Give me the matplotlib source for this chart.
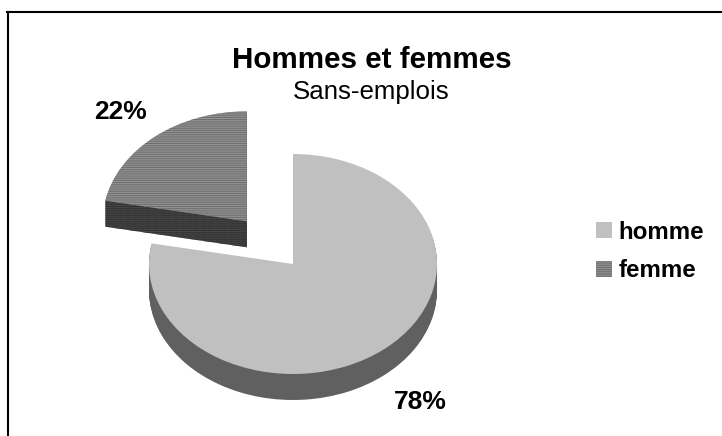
import matplotlib
matplotlib.use("Agg")
import matplotlib.pyplot as plt

plt.rcParams['font.family'] = ['Liberation Sans', 'DejaVu Sans']
plt.rcParams['hatch.linewidth'] = 0.7

categories = ["homme", "femme"]
values = [78, 22]
explode = [0, 72.5]
title = "Hommes et femmes"
subtitle = "Sans-emplois"

W, H = 722, 436
RX, RY = 144, 110
DEPTH = 26
# 1 unit of y in data = RY/RX pixels, this is what tilts the pie
YS = RX / RY

fig = plt.figure(figsize=(W / 100, H / 100), dpi=100)
ax = fig.add_axes([0, 0, 1, 1])


def draw_pie(py, top_colors, hatch_colors, hatches, zorder):
    wedges, _ = ax.pie(values, explode=explode, colors=top_colors, startangle=90,
                       counterclock=False, radius=RX, center=(293, (H - py) * YS),
                       wedgeprops=dict(linewidth=0))
    for w, hc, h in zip(wedges, hatch_colors, hatches):
        w.set_zorder(zorder)
        if h:
            w.set_hatch(h)
            w.set_edgecolor(hc)
    return wedges


# side wall: same pie stacked pixel by pixel
for d in range(DEPTH, 0, -1):
    draw_pie(264 + d, ["#606060", "#484848"], ["#606060", "#303030"], [None, "---------"], 2)

wedges = draw_pie(264, ["#c0c0c0", "#999999"], ["#c0c0c0", "#6c6c6c"], [None, "---------"], 3)

ax.set_aspect('auto')
ax.set_xlim(0, W)
ax.set_ylim(0, H * YS)
ax.axis('off')

ax.text(371.5, (H - 60) * YS, title, ha='center', va='center', fontsize=21.3, fontweight='bold')
ax.text(371, (H - 92) * YS, subtitle, ha='center', va='center', fontsize=18.6)
ax.text(120.5, (H - 112) * YS, f"{values[1]}%", ha='center', va='center', fontsize=19, fontweight='bold')
ax.text(420, (H - 402) * YS, f"{values[0]}%", ha='center', va='center', fontsize=19, fontweight='bold')

ax.legend(wedges, categories, loc='center left', bbox_to_anchor=(596 / W, 1 - 251.5 / H),
          frameon=False, prop=dict(size=17.4, weight='bold'), handlelength=0.66, handleheight=0.66,
          handletextpad=0.27, labelspacing=0.64, borderpad=0, borderaxespad=0)

# black frame of the chart, cut by the picture at the bottom
for xs, ys in [([8, 8], [436, 12.5]), ([7, 722], [12.5, 12.5])]:
    fig.add_artist(plt.Line2D([x / W for x in xs], [1 - y / H for y in ys], color='black', lw=1.5))

fig.savefig("out.png", dpi=100)
